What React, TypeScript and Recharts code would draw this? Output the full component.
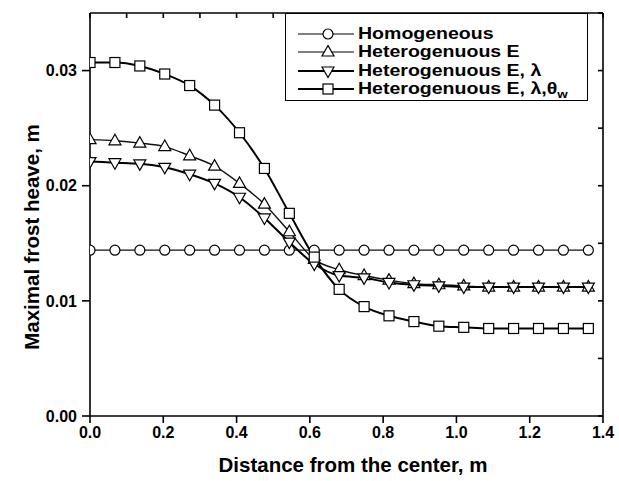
import React from 'react';
import { LineChart, Line, XAxis, YAxis } from 'recharts';

// distance from the center (m) at each computed node
const distance = [0, 0.068, 0.136, 0.204, 0.272, 0.34, 0.408, 0.476, 0.544, 0.612, 0.68, 0.748, 0.816, 0.884, 0.952, 1.02, 1.088, 1.156, 1.224, 1.292, 1.36];

// maximal frost heave (m)
const homogeneous = [0.0144, 0.0144, 0.0144, 0.0144, 0.0144, 0.0144, 0.0144, 0.0144, 0.0144, 0.0144, 0.0144, 0.0144, 0.0144, 0.0144, 0.0144, 0.0144, 0.0144, 0.0144, 0.0144, 0.0144, 0.0144];
const heteroE = [0.024, 0.0239, 0.0237, 0.0234, 0.0226, 0.0217, 0.0202, 0.0184, 0.016, 0.0136, 0.0127, 0.0122, 0.0118, 0.0115, 0.0114, 0.0113, 0.0112, 0.0112, 0.0112, 0.0112, 0.0112];
const heteroEL = [0.0221, 0.022, 0.0219, 0.0216, 0.021, 0.0202, 0.019, 0.0172, 0.0151, 0.0132, 0.0122, 0.012, 0.0116, 0.0114, 0.0113, 0.0112, 0.0112, 0.0112, 0.0112, 0.0112, 0.0112];
const heteroELT = [0.0307, 0.0307, 0.0304, 0.0297, 0.0287, 0.027, 0.0246, 0.0215, 0.0176, 0.0138, 0.011, 0.0095, 0.0087, 0.0082, 0.0078, 0.0077, 0.0076, 0.0076, 0.0076, 0.0076, 0.0076];

const xMajorTicks = [0, 0.2, 0.4, 0.6, 0.8, 1.0, 1.2, 1.4];
const xMinorTicks = [0, 0.1, 0.2, 0.3, 0.4, 0.5, 0.6, 0.7, 0.8, 0.9, 1.0, 1.1, 1.2, 1.3, 1.4];
const yMajorTicks = [0, 0.01, 0.02, 0.03];
const yMinorTicks = [0, 0.005, 0.01, 0.015, 0.02, 0.025, 0.03, 0.035];

const rows = distance.map((x, i) => ({
  x,
  homogeneous: homogeneous[i],
  heteroE: heteroE[i],
  heteroEL: heteroEL[i],
  heteroELT: heteroELT[i],
}));

const FONT = '"Liberation Sans", Arial, Helvetica, sans-serif';
const tickStyle = { fill: '#000', fontSize: 16, fontWeight: 700, fontFamily: FONT };
const frame = { stroke: '#000', strokeWidth: 1.6 };
const blank = () => '';

type Shape = 'circle' | 'up' | 'down' | 'square';

function Marker({ cx, cy, shape }: { cx: number; cy: number; shape: Shape }) {
  const common = { fill: '#fff', stroke: '#000', strokeWidth: 1.2 };
  if (shape === 'circle') return <circle cx={cx} cy={cy} r={5} {...common} />;
  if (shape === 'square') return <rect x={cx - 5} y={cy - 5} width={10} height={10} {...common} />;
  if (shape === 'up')
    return <polygon points={`${cx},${cy - 6.5} ${cx - 6},${cy + 4} ${cx + 6},${cy + 4}`} {...common} />;
  return <polygon points={`${cx},${cy + 6.5} ${cx - 6},${cy - 4} ${cx + 6},${cy - 4}`} {...common} />;
}

const dotOf = (shape: Shape) => (p: any) =>
  <Marker key={`${shape}-${p.index}`} cx={p.cx} cy={p.cy} shape={shape} />;

const legendItems: { label: React.ReactNode; shape: Shape; width: number }[] = [
  { label: 'Homogeneous', shape: 'circle', width: 1.2 },
  { label: 'Heterogenuous E', shape: 'up', width: 1.2 },
  { label: 'Heterogenuous E, λ', shape: 'down', width: 2 },
  {
    label: (
      <>
        Heterogenuous E, λ,θ<span style={{ fontSize: 11, position: 'relative', top: 4 }}>w</span>
      </>
    ),
    shape: 'square',
    width: 2,
  },
];

function ChartLegend() {
  return (
    <div
      style={{
        position: 'absolute',
        left: 285,
        top: 13,
        width: 303,
        height: 88,
        boxSizing: 'border-box',
        border: '1.5px solid #000',
        background: '#fff',
        paddingTop: 11,
        fontFamily: FONT,
        fontWeight: 700,
        fontSize: 16,
      }}
    >
      {legendItems.map((it, i) => (
        <div key={i} style={{ display: 'flex', alignItems: 'center', height: 18.3, whiteSpace: 'nowrap' }}>
          <svg width={72} height={18} style={{ flex: 'none' }}>
            <line x1={12} x2={68} y1={9} y2={9} stroke="#000" strokeWidth={it.width} />
            <Marker cx={42} cy={9} shape={it.shape} />
          </svg>
          <span
            style={{
              display: 'inline-block',
              lineHeight: '16px',
              transform: 'scaleX(1.22)',
              transformOrigin: 'left center',
            }}
          >
            {it.label}
          </span>
        </div>
      ))}
    </div>
  );
}

export default function App() {
  return (
    <div style={{ position: 'relative', width: 619, height: 481, background: '#fff' }}>
      <style>{`body{margin:0}`}</style>
      <LineChart width={619} height={481} data={rows} margin={{ top: 13, right: 16, bottom: 0, left: 0 }}>
        <XAxis
          xAxisId="minor"
          type="number"
          dataKey="x"
          domain={[0, 1.4]}
          allowDataOverflow
          ticks={xMinorTicks}
          interval={0}
          tickFormatter={blank}
          tickSize={4}
          height={0}
          axisLine={false}
          tickLine={frame}
        />
        <XAxis
          xAxisId="main"
          type="number"
          dataKey="x"
          domain={[0, 1.4]}
          allowDataOverflow
          ticks={xMajorTicks}
          interval={0}
          height={65}
          tickSize={7}
          tickMargin={4}
          tick={tickStyle}
          tickFormatter={(v: number) => v.toFixed(1)}
          axisLine={frame}
          tickLine={frame}
          label={{
            content: () => (
              <text x={353} y={472} textAnchor="middle" fontFamily={FONT} fontWeight={700} fontSize={20.5} fill="#000">
                Distance from the center, m
              </text>
            ),
          }}
        />
        <XAxis
          xAxisId="top"
          orientation="top"
          type="number"
          dataKey="x"
          domain={[0, 1.4]}
          allowDataOverflow
          ticks={xMinorTicks}
          interval={0}
          mirror
          tickFormatter={blank}
          tickSize={5}
          axisLine={frame}
          tickLine={frame}
        />
        <YAxis
          yAxisId="minor"
          type="number"
          domain={[0, 0.035]}
          allowDataOverflow
          ticks={yMinorTicks}
          interval={0}
          tickFormatter={blank}
          tickSize={4}
          width={0}
          axisLine={false}
          tickLine={frame}
        />
        <YAxis
          yAxisId="main"
          type="number"
          domain={[0, 0.035]}
          allowDataOverflow
          ticks={yMajorTicks}
          interval={0}
          width={90}
          tickSize={8}
          tickMargin={5}
          tick={tickStyle}
          tickFormatter={(v: number) => v.toFixed(2)}
          axisLine={frame}
          tickLine={frame}
          label={{
            content: () => (
              <text
                x={31}
                y={237}
                transform="rotate(-90 31 237)"
                textAnchor="middle"
                dominantBaseline="central"
                fontFamily={FONT}
                fontWeight={700}
                fontSize={20.5}
                fill="#000"
              >
                Maximal frost heave, m
              </text>
            ),
          }}
        />
        <YAxis
          yAxisId="right"
          orientation="right"
          type="number"
          domain={[0, 0.035]}
          allowDataOverflow
          ticks={yMinorTicks}
          interval={0}
          mirror
          tickFormatter={blank}
          tickSize={5}
          axisLine={frame}
          tickLine={frame}
        />
        <Line xAxisId="main" yAxisId="main" type="monotone" dataKey="homogeneous" stroke="#111" strokeWidth={1.2} dot={dotOf('circle')} isAnimationActive={false} />
        <Line xAxisId="main" yAxisId="main" type="monotone" dataKey="heteroE" stroke="#111" strokeWidth={1.4} dot={dotOf('up')} isAnimationActive={false} />
        <Line xAxisId="main" yAxisId="main" type="monotone" dataKey="heteroEL" stroke="#000" strokeWidth={2} dot={dotOf('down')} isAnimationActive={false} />
        <Line xAxisId="main" yAxisId="main" type="monotone" dataKey="heteroELT" stroke="#000" strokeWidth={2} dot={dotOf('square')} isAnimationActive={false} />
      </LineChart>
      <ChartLegend />
    </div>
  );
}
